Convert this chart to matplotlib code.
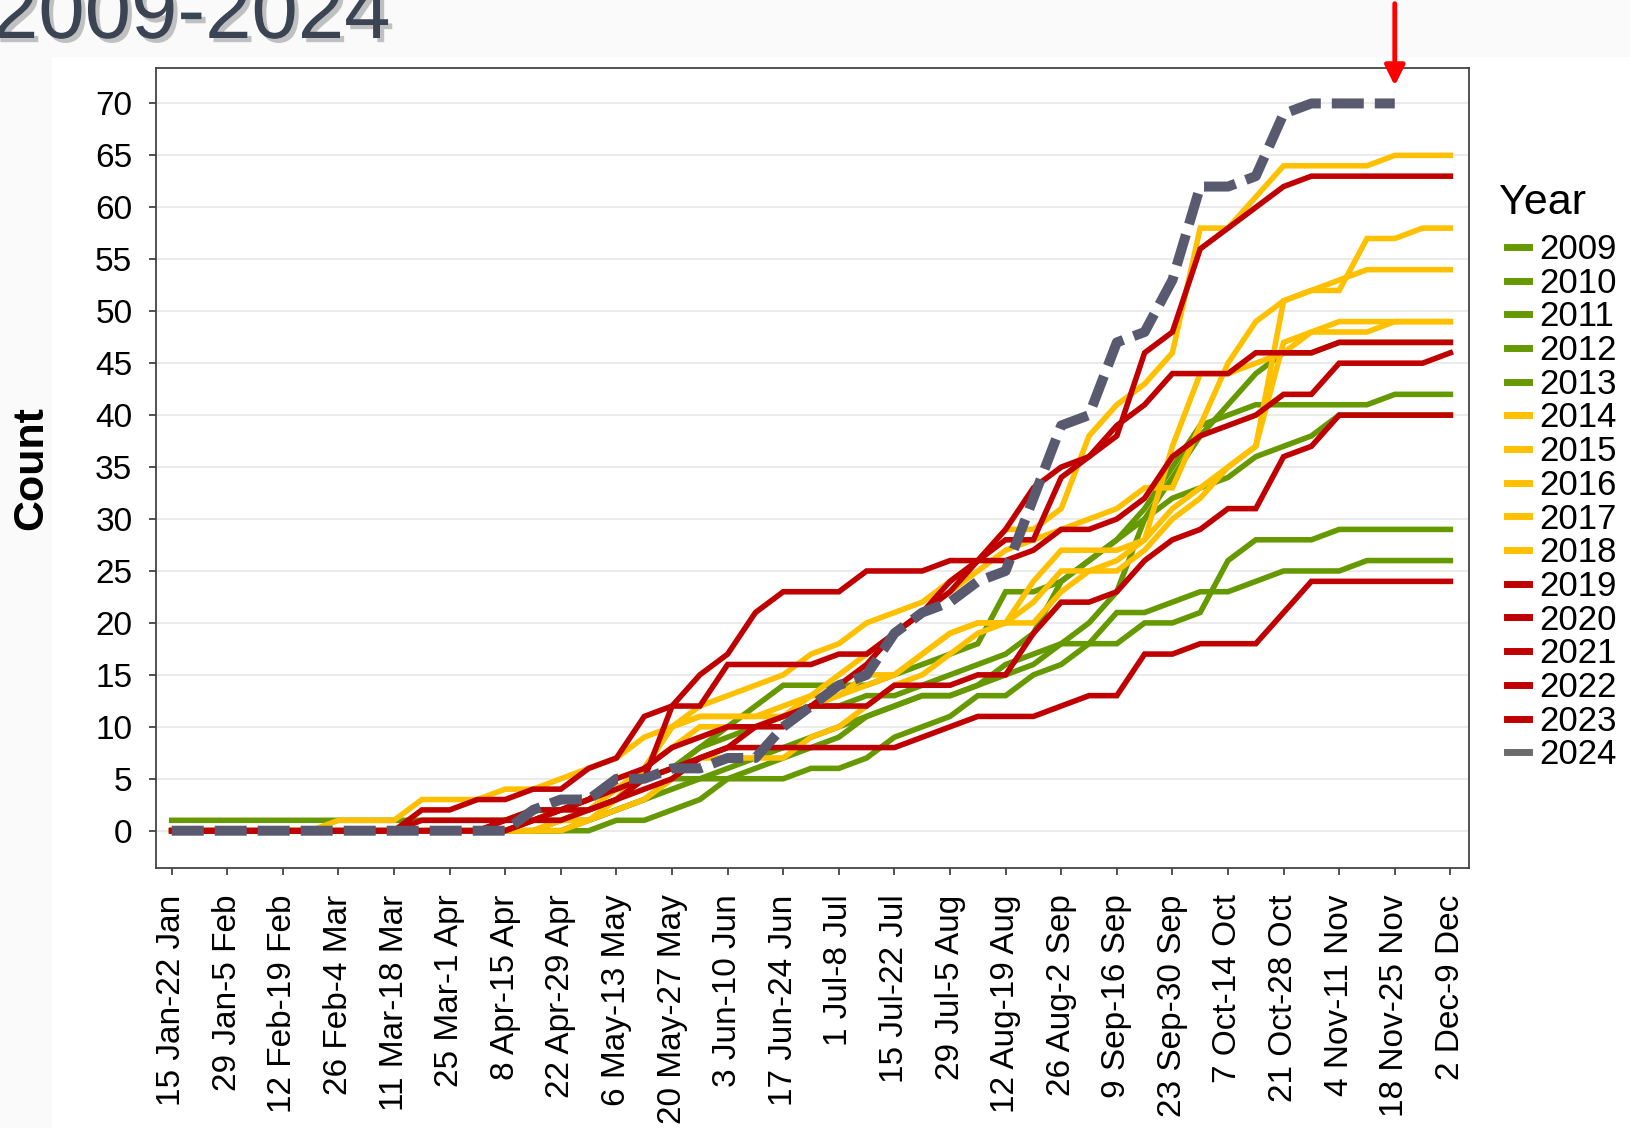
import numpy as np
import matplotlib.pyplot as plt
import matplotlib.patheffects as pe
from matplotlib.lines import Line2D
from matplotlib.patches import Rectangle

plt.rcParams['font.family'] = ['Liberation Sans', 'DejaVu Sans']

# weekly cumulative counts, week 0 = 15 Jan-22 Jan ... week 46 = 2 Dec-9 Dec
week_labels = ['15 Jan-22 Jan', '29 Jan-5 Feb', '12 Feb-19 Feb', '26 Feb-4 Mar',
               '11 Mar-18 Mar', '25 Mar-1 Apr', '8 Apr-15 Apr', '22 Apr-29 Apr',
               '6 May-13 May', '20 May-27 May', '3 Jun-10 Jun', '17 Jun-24 Jun',
               '1 Jul-8 Jul', '15 Jul-22 Jul', '29 Jul-5 Aug', '12 Aug-19 Aug',
               '26 Aug-2 Sep', '9 Sep-16 Sep', '23 Sep-30 Sep', '7 Oct-14 Oct',
               '21 Oct-28 Oct', '4 Nov-11 Nov', '18 Nov-25 Nov', '2 Dec-9 Dec']

y2009 = [1, 1, 1, 1, 1, 1, 1, 1, 1, 1,
         1, 1, 1, 2, 2, 3, 4, 5, 6, 8,
         10, 12, 14, 14, 14, 14, 15, 16, 17, 18,
         23, 23, 24, 26, 28, 31, 35, 39, 40, 41,
         41, 41, 41, 41, 42, 42, 42]
y2010 = [0, 0, 0, 0, 0, 0, 0, 0, 0, 0,
         0, 0, 0, 1, 1, 2, 3, 5, 6, 8,
         9, 10, 11, 12, 12, 13, 13, 14, 15, 16,
         17, 19, 24, 26, 28, 30, 32, 33, 34, 36,
         37, 38, 40, 40, 40, 40, 40]
y2011 = [0, 0, 0, 0, 0, 0, 0, 0, 0, 0,
         0, 0, 0, 0, 1, 1, 2, 3, 4, 5,
         5, 6, 7, 8, 9, 11, 12, 13, 13, 14,
         15, 16, 18, 20, 23, 30, 34, 38, 41, 44,
         46, 46, 47, 47, 47, 47, 47]
y2012 = [0, 0, 0, 0, 0, 0, 0, 0, 0, 0,
         0, 0, 0, 0, 0, 1, 2, 3, 5, 5,
         6, 7, 8, 9, 10, 11, 12, 13, 13, 14,
         16, 17, 18, 18, 18, 20, 20, 21, 26, 28,
         28, 28, 29, 29, 29, 29, 29]
y2013 = [0, 0, 0, 0, 0, 0, 0, 0, 0, 0,
         0, 0, 0, 0, 0, 0, 1, 1, 2, 3,
         5, 5, 5, 6, 6, 7, 9, 10, 11, 13,
         13, 15, 16, 18, 21, 21, 22, 23, 23, 24,
         25, 25, 25, 26, 26, 26, 26]
y2014 = [0, 0, 0, 0, 0, 0, 1, 1, 1, 3,
         3, 3, 4, 4, 5, 6, 7, 9, 10, 12,
         13, 14, 15, 17, 18, 20, 21, 22, 24, 26,
         29, 29, 31, 38, 41, 43, 46, 58, 58, 61,
         64, 64, 64, 64, 65, 65, 65]
y2015 = [0, 0, 0, 0, 0, 0, 0, 0, 0, 0,
         0, 0, 0, 1, 2, 3, 4, 6, 10, 11,
         11, 11, 11, 12, 13, 14, 15, 17, 19, 20,
         20, 22, 25, 25, 26, 28, 31, 33, 35, 37,
         51, 52, 52, 57, 57, 58, 58]
y2016 = [0, 0, 0, 0, 0, 0, 0, 0, 0, 0,
         0, 0, 0, 0, 1, 2, 4, 6, 8, 10,
         10, 10, 11, 13, 15, 17, 19, 21, 23, 25,
         27, 28, 29, 30, 31, 33, 33, 39, 45, 49,
         51, 52, 53, 54, 54, 54, 54]
y2017 = [0, 0, 0, 0, 0, 0, 0, 0, 0, 0,
         0, 0, 0, 0, 0, 1, 2, 3, 5, 7,
         7, 7, 7, 9, 10, 12, 14, 15, 17, 19,
         20, 20, 23, 25, 25, 27, 30, 32, 35, 37,
         47, 48, 48, 48, 49, 49, 49]
y2018 = [0, 0, 0, 0, 0, 0, 0, 0, 0, 0,
         0, 0, 0, 0, 1, 1, 3, 6, 10, 11,
         11, 11, 12, 13, 13, 15, 15, 17, 19, 20,
         20, 24, 27, 27, 27, 28, 37, 44, 44, 45,
         46, 48, 49, 49, 49, 49, 49]
y2019 = [0, 0, 0, 0, 0, 0, 0, 0, 0, 2,
         2, 3, 3, 4, 4, 6, 7, 11, 12, 12,
         16, 16, 16, 16, 17, 17, 19, 21, 23, 26,
         28, 28, 34, 36, 38, 46, 48, 56, 58, 60,
         62, 63, 63, 63, 63, 63, 63]
y2020 = [0, 0, 0, 0, 0, 0, 0, 0, 0, 1,
         1, 1, 1, 2, 2, 3, 4, 5, 12, 15,
         17, 21, 23, 23, 23, 25, 25, 25, 26, 26,
         26, 27, 29, 29, 30, 32, 36, 38, 39, 40,
         42, 42, 45, 45, 45, 45, 46]
y2021 = [0, 0, 0, 0, 0, 0, 0, 0, 0, 0,
         0, 0, 0, 1, 1, 2, 3, 4, 5, 7,
         8, 10, 11, 12, 14, 16, 19, 21, 24, 26,
         29, 33, 35, 36, 39, 41, 44, 44, 44, 46,
         46, 46, 47, 47, 47, 47, 47]
y2022 = [0, 0, 0, 0, 0, 0, 0, 0, 0, 0,
         0, 0, 1, 1, 2, 3, 5, 6, 8, 9,
         10, 10, 10, 12, 12, 12, 14, 14, 14, 15,
         15, 19, 22, 22, 23, 26, 28, 29, 31, 31,
         36, 37, 40, 40, 40, 40, 40]
y2023 = [0, 0, 0, 0, 0, 0, 0, 0, 0, 0,
         0, 0, 0, 1, 2, 2, 3, 5, 6, 7,
         8, 8, 8, 8, 8, 8, 8, 9, 10, 11,
         11, 11, 12, 13, 13, 17, 17, 18, 18, 18,
         21, 24, 24, 24, 24, 24, 24]
y2024 = [0, 0, 0, 0, 0, 0, 0, 0, 0, 0,
         0, 0, 0, 2, 3, 3, 5, 5, 6, 6,
         7, 7, 10, 12, 14, 15, 19, 21, 22, 24,
         25, 32, 39, 40, 47, 48, 53, 62, 62, 63,
         69, 70, 70, 70, 70, None, None]

years = ['2009', '2010', '2011', '2012', '2013', '2014', '2015', '2016',
         '2017', '2018', '2019', '2020', '2021', '2022', '2023']
series = [y2009, y2010, y2011, y2012, y2013, y2014, y2015, y2016,
          y2017, y2018, y2019, y2020, y2021, y2022, y2023]

green = '#669900'
yellow = '#ffc000'
red = '#c00000'
col_2024 = '#595a70'
colors = [green] * 5 + [yellow] * 5 + [red] * 5

W, H = 1631, 1128
fig = plt.figure(figsize=(W / 100, H / 100), dpi=100)
fig.patch.set_facecolor('#fafafa')
fig.patches.append(Rectangle((52 / W, 0), 1, 1 - 57 / H, transform=fig.transFigure,
                             facecolor='white', edgecolor='none', zorder=-5))

ax = fig.add_axes([156 / W, 1 - 868 / H, (1469 - 156) / W, (868 - 67.7) / H])
x = np.arange(47)

for vals, c in zip(series, colors):
    ax.plot(x, vals, color=c, lw=4.0, solid_joinstyle='miter', zorder=3)

v24 = np.array([np.nan if v is None else v for v in y2024], dtype=float)
ax.plot(x, v24, color=col_2024, lw=7.2, dashes=(3.2, 1.1), dash_capstyle='butt', zorder=5)

ax.set_xlim(-0.565, 46.67)
ax.set_ylim(-3.59, 73.44)
ax.set_yticks(np.arange(0, 71, 5))
ax.set_xticks(x[::2])
ax.set_xticklabels(week_labels, rotation=90)
ax.tick_params(axis='both', labelsize=24, length=5, width=1.2, color='#333333')
ax.tick_params(axis='y', pad=12)
ax.tick_params(axis='x', pad=14)
ax.yaxis.grid(True, color='#ebebeb', lw=1.5, zorder=0)
ax.set_axisbelow(True)
for s in ax.spines.values():
    s.set_color('#444444')
    s.set_linewidth(1.3)

fig.text(31 / W, 1 - 468 / H, 'Count', rotation=90, fontsize=31, fontweight='bold',
         ha='center', va='center')

# legend, title placed on its own
handles = [Line2D([0], [0], color=c, lw=5) for c in colors]
handles.append(Line2D([0], [0], color='#6b6b6b', lw=5))
fig.legend(handles, years + ['2024'], loc='upper left',
           bbox_to_anchor=(1507 / W, 1 - 233 / H), frameon=False,
           fontsize=25, handlelength=0.62, handletextpad=0.3,
           labelspacing=0.02, borderpad=0, borderaxespad=0)
fig.text(1499 / W, 1 - 203 / H, 'Year', fontsize=31, ha='left', va='center')

# title
fig.text(-8 / W, 1 - 38 / H, '2009-2024', fontsize=60, color='#3b4453',
         ha='left', va='baseline',
         path_effects=[pe.SimplePatchShadow(offset=(3, -3), shadow_rgbFace='#888888', alpha=0.5),
                       pe.Normal()])

# arrow marking the latest week
ax.annotate('', xy=(44, 71.7), xytext=(44, 79.6), annotation_clip=False,
            arrowprops=dict(arrowstyle='-|>', color='#ff0000', lw=3.5,
                            mutation_scale=30, shrinkA=0, shrinkB=0))

fig.savefig('out.png', dpi=100, facecolor=fig.get_facecolor())
